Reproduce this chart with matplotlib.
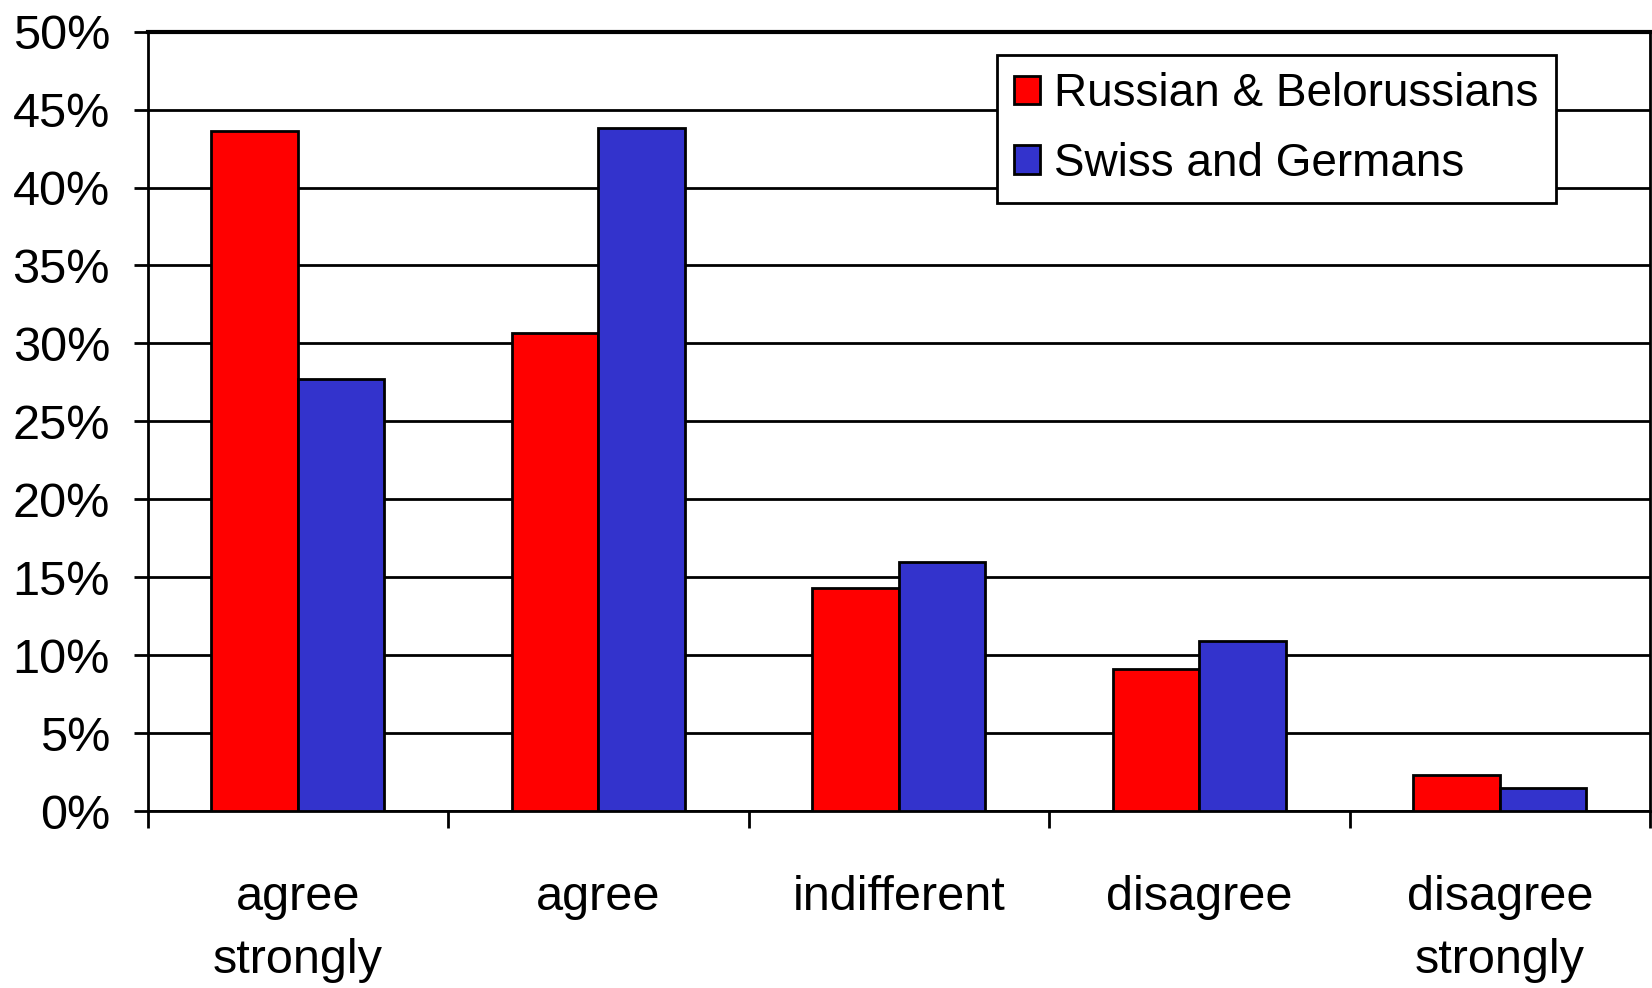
import numpy as np
import matplotlib
matplotlib.use("Agg")
import matplotlib.pyplot as plt

categories = ["agree\nstrongly", "agree", "indifferent", "disagree", "disagree\nstrongly"]
russian = [43.6, 30.7, 14.3, 9.1, 2.3]
swiss = [27.7, 43.8, 16.0, 10.9, 1.5]
series_names = ["Russian & Belorussians", "Swiss and Germans"]
yticks = [0, 5, 10, 15, 20, 25, 30, 35, 40, 45, 50]

plt.rcParams['font.family'] = ['Liberation Sans', 'DejaVu Sans']
FS = 35

fig = plt.figure(figsize=(16.52, 9.88), dpi=100)
ax = fig.add_axes([0.0893, 0.179, 0.9095, 0.789])

x = np.arange(len(categories))
w = 0.2875
ax.bar(x - w / 2, russian, w, color="#FF0000", edgecolor="black", linewidth=2, label=series_names[0], zorder=3)
ax.bar(x + w / 2, swiss, w, color="#3333CC", edgecolor="black", linewidth=2, label=series_names[1], zorder=3)

ax.set_xlim(-0.5, len(categories) - 0.5)
ax.set_ylim(0, 50)
ax.set_yticks(yticks)
ax.set_yticklabels([f"{v}%" for v in yticks], fontsize=FS)
ax.yaxis.grid(True, color="black", linewidth=2, zorder=0)

# ticks on category boundaries, labels in the middle
ax.set_xticks(np.arange(-0.5, len(categories), 1.0))
ax.set_xticklabels([])
ax.set_xticks(x, minor=True)
ax.set_xticklabels(categories, minor=True, fontsize=FS, linespacing=1.5)
ax.tick_params(axis="x", which="major", length=12, width=2, direction="out")
ax.tick_params(axis="x", which="minor", length=0, pad=46)
ax.tick_params(axis="y", length=10, width=2, direction="out", pad=17)

for s in ax.spines.values():
    s.set_linewidth(2)
    s.set_color("black")
ax.spines["top"].set_linewidth(3)

leg = ax.legend(loc="upper right", bbox_to_anchor=(0.9374, 0.970), borderaxespad=0,
                fontsize=33, fancybox=False, framealpha=1, edgecolor="black",
                handlelength=0.57, handleheight=0.57, handletextpad=0.3,
                borderpad=0.38, labelspacing=0.55)
leg.get_frame().set_linewidth(2)

fig.savefig("out.png", dpi=100)
